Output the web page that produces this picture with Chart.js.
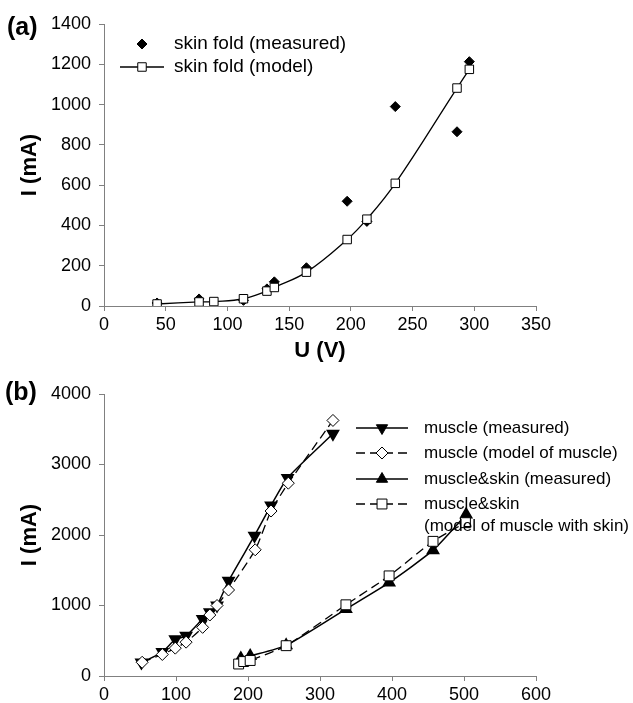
<!DOCTYPE html>
<html>
<head>
<meta charset="utf-8">
<script src="https://cdn.jsdelivr.net/npm/chart.js@4.4.1/dist/chart.umd.min.js"></script>
<style>
  html, body { margin: 0; padding: 0; background: #fff; }
  #page { position: relative; width: 633px; height: 703px; overflow: hidden; }
  .box { position: absolute; left: 0; width: 633px; }
  #boxA { top: 0; height: 380px; }
  #boxB { top: 360px; height: 343px; }
  .tag { position: absolute; font: bold 25px 'Liberation Sans', Arial, sans-serif; color: #000; }
</style>
</head>
<body>
<div id="page">
  <div class="box" id="boxA"><canvas id="chartA"></canvas></div>
  <div class="box" id="boxB"><canvas id="chartB"></canvas></div>
  <div class="tag" style="left:7px;top:12px">(a)</div>
  <div class="tag" style="left:5px;top:377px">(b)</div>
</div>
<script>
// (a) skin fold
const skinMeasU = [43, 77, 113, 132, 138, 164, 197, 213, 236, 286, 296];
const skinMeasI = [15, 35, 28, 85, 120, 190, 520, 420, 990, 865, 1213];
const skinModelU = [43, 77, 89, 113, 132, 138, 164, 197, 213, 236, 286, 296];
const skinModelI = [10, 20, 22, 36, 74, 92, 168, 330, 431, 609, 1082, 1175];

// (b) muscle / muscle&skin
const muscleMeasU = [52, 81, 99, 114, 137, 147, 157, 173, 209, 232, 255, 318];
const muscleMeasI = [190, 340, 520, 570, 810, 905, 1000, 1350, 1990, 2420, 2810, 3435];
const muscleModelU = [53, 81, 99, 114, 137, 147, 157, 173, 210, 232, 256, 318];
const muscleModelI = [195, 305, 395, 480, 690, 865, 1000, 1220, 1790, 2340, 2735, 3625];
const bothMeasU = [190, 203, 253, 336, 396, 457, 503];
const bothMeasI = [250, 285, 435, 950, 1325, 1785, 2290];
const bothModelU = [187, 194, 203, 253, 336, 396, 457, 502];
const bothModelI = [170, 205, 220, 430, 1010, 1420, 1910, 2175];

const ticksA_x = [0, 350, 50];
const ticksA_y = [0, 1400, 200];
const ticksB_x = [0, 600, 100];
const ticksB_y = [0, 4000, 1000];

const FONT = "'Liberation Sans', Arial, sans-serif";
Chart.defaults.font.family = FONT;
Chart.defaults.color = '#000';

const zip = (xs, ys) => xs.map((x, i) => ({ x: x, y: ys[i] }));
const AXIS = '#808080';

function axisX(t, title, h) {
  return {
    type: 'linear', min: t[0], max: t[1],
    border: { display: true, color: AXIS, width: 1 },
    grid: { drawOnChartArea: false, drawTicks: true, tickLength: 5, color: AXIS },
    ticks: { stepSize: t[2], font: { size: 18 }, padding: 3, maxRotation: 0, callback: v => String(v) },
    title: title ? { display: true, text: title, font: { size: 22, weight: 'bold' }, padding: { top: 0, bottom: 16 } } : { display: false },
    afterFit: s => { s.height = h; }
  };
}

function axisY(t) {
  return {
    type: 'linear', min: t[0], max: t[1],
    border: { display: true, color: AXIS, width: 1 },
    grid: { drawOnChartArea: false, drawTicks: true, tickLength: 5, color: AXIS },
    ticks: { stepSize: t[2], font: { size: 18 }, padding: 8, callback: v => String(v) },
    title: { display: true, text: 'I (mA)', font: { size: 22, weight: 'bold' }, padding: { top: 17, bottom: 0 } },
    afterFit: s => { s.width = 104; }
  };
}

function mark(ctx, shape, x, y, r, fill) {
  ctx.beginPath();
  if (shape === 'rect') {
    const s = r * Math.SQRT1_2;
    ctx.rect(x - s, y - s, 2 * s, 2 * s);
  } else if (shape === 'rectRot') {
    ctx.moveTo(x, y - r); ctx.lineTo(x + r, y); ctx.lineTo(x, y + r); ctx.lineTo(x - r, y); ctx.closePath();
  } else {
    const dir = shape === 'triDown' ? -1 : 1;
    const h = r * 0.5, w = r * Math.sqrt(3) / 2;
    ctx.moveTo(x, y - dir * r); ctx.lineTo(x + w, y + dir * h); ctx.lineTo(x - w, y + dir * h); ctx.closePath();
  }
  ctx.fillStyle = fill;
  ctx.fill();
  ctx.stroke();
}

// legend drawn inside the plot area, like the original
function legendBox(items, size, gap) {
  return {
    id: 'legendBox',
    afterDraw(chart) {
      const ctx = chart.ctx;
      ctx.save();
      ctx.font = size + 'px ' + FONT;
      ctx.textBaseline = 'middle';
      ctx.strokeStyle = '#000';
      items.forEach(it => {
        if (it.line) {
          ctx.lineWidth = 1.5;
          ctx.setLineDash(it.dash || []);
          ctx.beginPath(); ctx.moveTo(it.x1, it.y); ctx.lineTo(it.x2, it.y); ctx.stroke();
          ctx.setLineDash([]);
        }
        if (it.shape) { ctx.lineWidth = 1; mark(ctx, it.shape, it.mx, it.y, it.r, it.fill); }
        ctx.fillStyle = '#000';
        (Array.isArray(it.text) ? it.text : [it.text]).forEach((t, i) => ctx.fillText(t, it.tx, it.y + i * gap));
      });
      ctx.restore();
    }
  };
}

const common = {
  responsive: true, maintainAspectRatio: false, animation: false,
  plugins: { legend: { display: false }, tooltip: { enabled: false } }
};

new Chart(document.getElementById('chartA'), {
  type: 'scatter',
  data: {
    datasets: [
      { label: 'skin fold (model)', data: zip(skinModelU, skinModelI), showLine: true,
        borderColor: '#000', borderWidth: 1.3, tension: 0.4, pointStyle: 'rect', pointRadius: 6,
        pointBackgroundColor: '#fff', pointBorderColor: '#000', pointBorderWidth: 1, order: 0 },
      { label: 'skin fold (measured)', data: zip(skinMeasU, skinMeasI), showLine: false,
        pointStyle: 'rectRot', pointRadius: 5, pointBackgroundColor: '#000', pointBorderColor: '#000', order: 1 }
    ]
  },
  options: Object.assign({}, common, {
    layout: { padding: { top: 24, right: 97, bottom: 0, left: 0 } },
    scales: { x: axisX(ticksA_x, 'U (V)', 74), y: axisY(ticksA_y) }
  }),
  plugins: [legendBox([
    { y: 44, mx: 142, r: 5, shape: 'rectRot', fill: '#000', tx: 174, text: 'skin fold (measured)' },
    { y: 67, line: true, x1: 120, x2: 164, mx: 142, r: 6, shape: 'rect', fill: '#fff', tx: 174, text: 'skin fold (model)' }
  ], 19, 0)]
});

new Chart(document.getElementById('chartB'), {
  type: 'scatter',
  data: {
    datasets: [
      { label: 'muscle (model of muscle)', data: zip(muscleModelU, muscleModelI), showLine: true,
        borderColor: '#000', borderWidth: 1.3, borderDash: [9, 5], tension: 0.2, pointStyle: 'rectRot', pointRadius: 6,
        pointBackgroundColor: '#fff', pointBorderColor: '#000', pointBorderWidth: 1, order: 0 },
      { label: 'muscle (measured)', data: zip(muscleMeasU, muscleMeasI), showLine: true,
        borderColor: '#000', borderWidth: 1.5, tension: 0.2, pointStyle: 'triangle', rotation: 180, pointRadius: 6.5,
        pointBackgroundColor: '#000', pointBorderColor: '#000', order: 1 },
      { label: 'muscle&skin (model of muscle with skin)', data: zip(bothModelU, bothModelI), showLine: true,
        borderColor: '#000', borderWidth: 1.3, borderDash: [9, 5], tension: 0.2, pointStyle: 'rect', pointRadius: 7,
        pointBackgroundColor: '#fff', pointBorderColor: '#000', pointBorderWidth: 1, order: 2 },
      { label: 'muscle&skin (measured)', data: zip(bothMeasU, bothMeasI), showLine: true,
        borderColor: '#000', borderWidth: 1.5, tension: 0.2, pointStyle: 'triangle', pointRadius: 6.5,
        pointBackgroundColor: '#000', pointBorderColor: '#000', order: 3 }
    ]
  },
  options: Object.assign({}, common, {
    layout: { padding: { top: 34, right: 97, bottom: 0, left: 0 } },
    scales: { x: axisX(ticksB_x, null, 27), y: axisY(ticksB_y) }
  }),
  plugins: [legendBox([
    { y: 68, line: true, x1: 356, x2: 408, mx: 382, r: 6.5, shape: 'triDown', fill: '#000', tx: 424, text: 'muscle (measured)' },
    { y: 93, line: true, dash: [9, 5], x1: 356, x2: 408, mx: 382, r: 6, shape: 'rectRot', fill: '#fff', tx: 424, text: 'muscle (model of muscle)' },
    { y: 119, line: true, x1: 356, x2: 408, mx: 382, r: 6.5, shape: 'tri', fill: '#000', tx: 424, text: 'muscle&skin (measured)' },
    { y: 144, line: true, dash: [9, 5], x1: 356, x2: 408, mx: 382, r: 7, shape: 'rect', fill: '#fff', tx: 424,
      text: ['muscle&skin', '(model of muscle with skin)'] }
  ], 17, 22)]
});
</script>
</body>
</html>
